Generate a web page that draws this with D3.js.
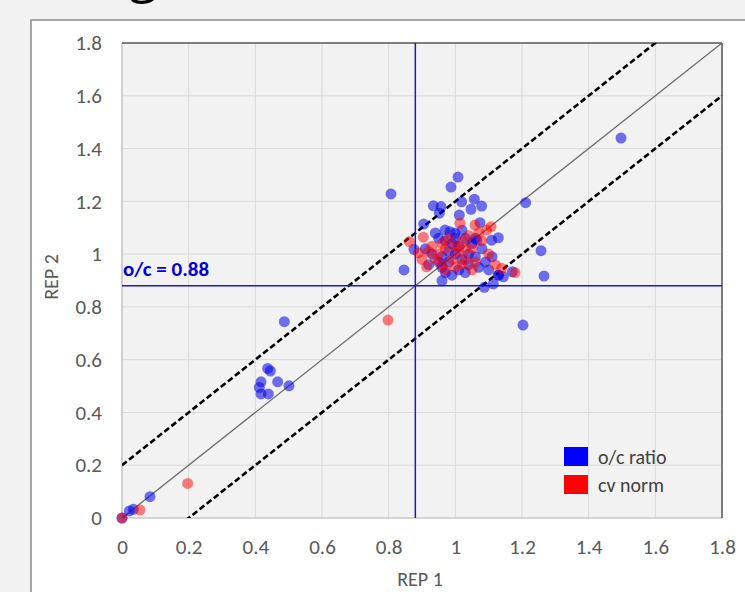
<!DOCTYPE html>
<html>
<head>
<meta charset="utf-8">
<script src="https://cdn.jsdelivr.net/npm/d3@7"></script>
<style>
  body { margin: 0; background: #f2f2f2; }
  svg { display: block; }
  text { font-family: Carlito, "Open Sans", sans-serif; }
</style>
</head>
<body>
<div id="chart"></div>
<script>
// Data
// o/c ratio series: [REP 1, REP 2]
var ocRatio = [
  [0, 0], [0.022, 0.027], [0.034, 0.033], [0.084, 0.081],
  [0.412, 0.495], [0.417, 0.516], [0.417, 0.47], [0.439, 0.47], [0.437, 0.567], [0.445, 0.557],
  [0.467, 0.516], [0.501, 0.501], [0.487, 0.744],
  [0.807, 1.228], [0.846, 0.94], [0.876, 1.018], [0.905, 1.114],
  [0.934, 1.183], [0.957, 1.18], [0.952, 1.155], [0.987, 1.254], [1.008, 1.292],
  [1.019, 1.198], [1.057, 1.208], [1.079, 1.182], [1.047, 1.17], [1.012, 1.148], [1.074, 1.119],
  [1.211, 1.195], [1.257, 1.013], [1.266, 0.917], [1.203, 0.731], [1.497, 1.44],
  [0.96, 0.899], [1.087, 0.874], [1.114, 0.887], [1.129, 0.921], [1.144, 0.914], [1.171, 0.933],
  [1.109, 1.053], [1.129, 1.062], [1.064, 1.053], [0.969, 1.091], [0.984, 1.085], [0.999, 1.079],
  [0.95, 1.06], [0.97, 1.05], [0.99, 1.04], [1.0, 1.0], [1.02, 0.98], [0.98, 0.97], [0.96, 0.95],
  [1.04, 0.96], [1.06, 0.99], [1.08, 1.02], [1.05, 1.04], [0.93, 1.0], [0.92, 0.96], [1.01, 0.94],
  [1.03, 0.93], [0.97, 0.93], [0.99, 0.92], [1.07, 0.95], [1.09, 0.97], [1.1, 0.94], [1.0, 1.06],
  [1.02, 1.09], [0.94, 1.08], [0.96, 0.99], [1.04, 1.0], [1.06, 1.06], [0.91, 1.02], [1.11, 0.99],
  [1.13, 0.92], [0.98, 1.01], [1.01, 1.03], [0.95, 0.97], [1.03, 1.06]
];

// cv norm series: [REP 1, REP 2]
var cvNorm = [
  [0, 0], [0.054, 0.03], [0.197, 0.131], [0.798, 0.75],
  [0.862, 1.047], [0.904, 1.064], [0.889, 1.005], [0.914, 0.952],
  [1.014, 1.117], [1.059, 1.11], [1.094, 1.091], [1.107, 1.104], [1.139, 0.946], [1.179, 0.93],
  [0.93, 1.03], [0.95, 1.0], [0.97, 1.02], [1.0, 1.03], [1.02, 1.05], [1.04, 1.07], [1.05, 1.02],
  [0.96, 0.96], [0.99, 0.98], [1.01, 1.01], [1.03, 0.98], [1.06, 0.97], [0.94, 0.98], [0.98, 1.06],
  [1.08, 1.05], [1.0, 0.95], [0.92, 1.01], [1.1, 1.0], [1.05, 0.94], [1.07, 1.08], [0.97, 0.94],
  [1.02, 0.96], [1.12, 0.96], [0.96, 1.04], [0.9, 0.98], [1.03, 1.02]
];

var tickVals = [0, 0.2, 0.4, 0.6, 0.8, 1, 1.2, 1.4, 1.6, 1.8];
var ocCutoff = 0.88;
var bandOffset = 0.2;
var legendNames = ["o/c ratio", "cv norm"];

// Layout
var width = 745;
var height = 592;
var plotLeft = 122;
var plotRight = 722;
var plotTop = 43;
var plotBottom = 518;

var svg = d3.select("#chart")
  .append("svg")
  .attr("width", width)
  .attr("height", height);

// page bg and chart box
svg.append("rect").attr("width", width).attr("height", height).attr("fill", "#f2f2f2");
svg.append("rect")
  .attr("x", 31).attr("y", 20)
  .attr("width", 760).attr("height", 620)
  .attr("fill", "#ffffff")
  .attr("stroke", "#8c8c8c")
  .attr("stroke-width", 1.5);

// title sits above the window, only the tail of the "g" shows
svg.append("text")
  .attr("x", 129).attr("y", -8)
  .attr("font-size", 52)
  .attr("fill", "#000")
  .style("font-family", "'Open Sans', sans-serif")
  .text("g");

var xScale = d3.scaleLinear().domain([0, 1.8]).range([plotLeft, plotRight]);
var yScale = d3.scaleLinear().domain([0, 1.8]).range([plotBottom, plotTop]);

// plot background
svg.append("rect")
  .attr("x", plotLeft).attr("y", plotTop)
  .attr("width", plotRight - plotLeft).attr("height", plotBottom - plotTop)
  .attr("fill", "#f2f2f2");

svg.append("defs").append("clipPath").attr("id", "plotClip")
  .append("rect")
  .attr("x", plotLeft).attr("y", plotTop)
  .attr("width", plotRight - plotLeft).attr("height", plotBottom - plotTop);

// gridlines
svg.append("g")
  .selectAll("line")
  .data(tickVals)
  .enter()
  .append("line")
  .attr("x1", function(d) { return xScale(d); })
  .attr("x2", function(d) { return xScale(d); })
  .attr("y1", plotTop).attr("y2", plotBottom)
  .attr("stroke", "#d9d9d9").attr("stroke-width", 1);
svg.append("g")
  .selectAll("line")
  .data(tickVals)
  .enter()
  .append("line")
  .attr("y1", function(d) { return yScale(d); })
  .attr("y2", function(d) { return yScale(d); })
  .attr("x1", plotLeft).attr("x2", plotRight)
  .attr("stroke", "#d9d9d9").attr("stroke-width", 1);

// axes (labels only)
function fmt(d) { return d3.format("~g")(d); }
var xAxis = svg.append("g")
  .attr("transform", "translate(0," + plotBottom + ")")
  .call(d3.axisBottom(xScale).tickValues(tickVals).tickFormat(fmt).tickSize(0).tickPadding(21));
var yAxis = svg.append("g")
  .attr("transform", "translate(" + plotLeft + ",0)")
  .call(d3.axisLeft(yScale).tickValues(tickVals).tickFormat(fmt).tickSize(0).tickPadding(20));
[xAxis, yAxis].forEach(function(a) {
  a.select(".domain").remove();
  a.selectAll("text")
    .attr("fill", "#595959")
    .attr("font-size", 21)
    .style("font-family", "Carlito, 'Open Sans', sans-serif");
});

// plot borders
svg.append("line").attr("x1", plotLeft).attr("x2", plotRight).attr("y1", plotBottom).attr("y2", plotBottom)
  .attr("stroke", "#bfbfbf").attr("stroke-width", 1.2);
svg.append("line").attr("x1", plotLeft).attr("x2", plotLeft).attr("y1", plotTop).attr("y2", plotBottom)
  .attr("stroke", "#bfbfbf").attr("stroke-width", 1.2);
svg.append("line").attr("x1", plotLeft).attr("x2", plotRight).attr("y1", plotTop).attr("y2", plotTop)
  .attr("stroke", "#595959").attr("stroke-width", 1.5);
svg.append("line").attr("x1", plotRight).attr("x2", plotRight).attr("y1", plotTop).attr("y2", plotBottom)
  .attr("stroke", "#595959").attr("stroke-width", 1.5);

var plot = svg.append("g").attr("clip-path", "url(#plotClip)");

// y = x reference and +/- band
var line = d3.line().x(function(d) { return xScale(d[0]); }).y(function(d) { return yScale(d[1]); });
plot.append("path")
  .attr("d", line([[0, 0], [1.8, 1.8]]))
  .attr("stroke", "#6b6b6b").attr("stroke-width", 1.3).attr("fill", "none");
[bandOffset, -bandOffset].forEach(function(off) {
  plot.append("path")
    .attr("d", line([[0, off], [1.8, 1.8 + off]]))
    .attr("stroke", "#000").attr("stroke-width", 2.6)
    .attr("stroke-dasharray", "6,3")
    .attr("fill", "none");
});

// o/c cut-off lines
plot.append("line")
  .attr("x1", xScale(ocCutoff)).attr("x2", xScale(ocCutoff))
  .attr("y1", plotTop).attr("y2", plotBottom)
  .attr("stroke", "#1a1acc").attr("stroke-width", 1.5);
plot.append("line")
  .attr("x1", plotLeft).attr("x2", plotRight)
  .attr("y1", yScale(ocCutoff)).attr("y2", yScale(ocCutoff))
  .attr("stroke", "#1a1acc").attr("stroke-width", 1.5);

svg.append("text")
  .attr("x", plotLeft + 1).attr("y", yScale(ocCutoff) - 10)
  .attr("fill", "#0000e0")
  .attr("font-size", 21)
  .attr("font-weight", "bold")
  .text("o/c = " + ocCutoff);

// points (not clipped, the origin dot sits over the axis)
var dots = svg.append("g");
dots.append("g")
  .selectAll("circle")
  .data(ocRatio)
  .enter()
  .append("circle")
  .attr("cx", function(d) { return xScale(d[0]); })
  .attr("cy", function(d) { return yScale(d[1]); })
  .attr("r", 5.5)
  .attr("fill", "#0000e6")
  .attr("fill-opacity", 0.55);
dots.append("g")
  .selectAll("circle")
  .data(cvNorm)
  .enter()
  .append("circle")
  .attr("cx", function(d) { return xScale(d[0]); })
  .attr("cy", function(d) { return yScale(d[1]); })
  .attr("r", 5.5)
  .attr("fill", "#ff0000")
  .attr("fill-opacity", 0.5);

// legend
var legendColors = ["#0000ff", "#ff0000"];
var legend = svg.append("g").attr("transform", "translate(564,447)");
legendNames.forEach(function(name, i) {
  legend.append("rect")
    .attr("x", 0).attr("y", i * 28)
    .attr("width", 24).attr("height", 19)
    .attr("fill", legendColors[i]);
  legend.append("text")
    .attr("x", 34).attr("y", i * 28 + 17)
    .attr("font-size", 20)
    .attr("fill", "#404040")
    .text(name);
});

// axis titles
svg.append("text")
  .attr("x", (plotLeft + plotRight) / 2 - 2).attr("y", 586)
  .attr("text-anchor", "middle")
  .attr("font-size", 20)
  .attr("fill", "#595959")
  .text("REP 1");
svg.append("text")
  .attr("transform", "translate(58,277)rotate(-90)")
  .attr("text-anchor", "middle")
  .attr("font-size", 20)
  .attr("fill", "#595959")
  .text("REP 2");
</script>
</body>
</html>
